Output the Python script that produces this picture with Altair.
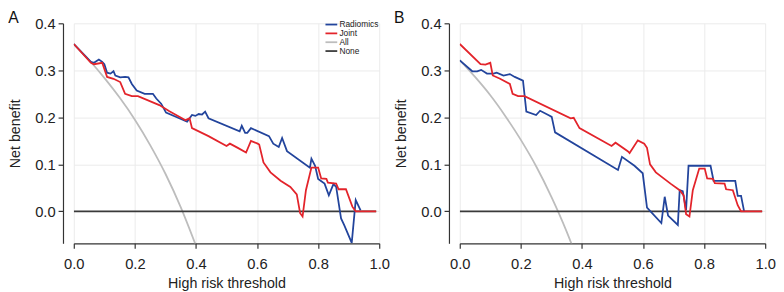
import altair as alt
import pandas as pd

series_names = ["Radiomics", "Joint", "All", "None"]
series_colors = ["#22449c", "#e3242b", "#bdbdbd", "#3a3a3a"]
x_ticks = [0.0, 0.2, 0.4, 0.6, 0.8, 1.0]
y_ticks = [0.0, 0.1, 0.2, 0.3, 0.4]

# ---------------- Panel A ----------------
a_rad_t = [0.000, 0.056, 0.066, 0.082, 0.093, 0.100, 0.109, 0.120, 0.130, 0.136, 0.152, 0.168,
           0.179, 0.190, 0.206, 0.232, 0.259, 0.270, 0.286, 0.302, 0.345, 0.371, 0.387, 0.398,
           0.409, 0.420, 0.430, 0.441, 0.543, 0.550, 0.561, 0.568, 0.580, 0.639, 0.653, 0.671,
           0.682, 0.698, 0.773, 0.778, 0.790, 0.800, 0.821, 0.835, 0.850, 0.859, 0.875, 0.885,
           0.910, 0.923, 0.939]
a_rad_nb = [0.356, 0.318, 0.316, 0.323, 0.318, 0.313, 0.295, 0.293, 0.298, 0.289, 0.285, 0.286,
            0.285, 0.271, 0.257, 0.250, 0.250, 0.240, 0.229, 0.210, 0.198, 0.191, 0.205, 0.203,
            0.207, 0.206, 0.212, 0.198, 0.170, 0.182, 0.167, 0.167, 0.177, 0.160, 0.144, 0.137,
            0.156, 0.128, 0.093, 0.112, 0.097, 0.069, 0.059, 0.034, 0.058, 0.052, -0.015, -0.029,
            -0.067, 0.024, 0.002]

a_joint_t = [0.000, 0.056, 0.066, 0.093, 0.109, 0.130, 0.152, 0.168, 0.190, 0.210, 0.280, 0.313,
             0.366, 0.379, 0.387, 0.441, 0.500, 0.511, 0.537, 0.564, 0.580, 0.602, 0.607, 0.621,
             0.644, 0.677, 0.709, 0.730, 0.741, 0.749, 0.760, 0.778, 0.800, 0.810, 0.827, 0.832,
             0.859, 0.867, 0.891, 0.912, 0.923, 0.990]
a_joint_nb = [0.356, 0.316, 0.313, 0.316, 0.286, 0.282, 0.275, 0.250, 0.245, 0.245, 0.226, 0.213,
              0.194, 0.198, 0.177, 0.160, 0.139, 0.144, 0.135, 0.125, 0.150, 0.144, 0.142, 0.104,
              0.083, 0.065, 0.052, 0.036, -0.004, -0.011, 0.045, 0.093, 0.093, 0.070, 0.069, 0.061,
              0.059, 0.047, 0.047, 0.010, 0.000, 0.000]

a_all_t = [0.00, 0.05, 0.10, 0.15, 0.20, 0.25, 0.30, 0.35, 0.40]
a_all_nb = [0.356, 0.322, 0.284, 0.242, 0.195, 0.141, 0.080, 0.009, -0.073]

# ---------------- Panel B ----------------
b_rad_t = [0.000, 0.041, 0.057, 0.070, 0.089, 0.110, 0.121, 0.143, 0.164, 0.180, 0.207, 0.218,
           0.250, 0.263, 0.293, 0.301, 0.312, 0.518, 0.531, 0.572, 0.599, 0.613, 0.660, 0.671,
           0.682, 0.714, 0.720, 0.730, 0.741, 0.749, 0.821, 0.831, 0.902, 0.910, 0.921, 0.931]
b_rad_nb = [0.321, 0.298, 0.298, 0.301, 0.293, 0.293, 0.295, 0.289, 0.292, 0.286, 0.278, 0.212,
            0.205, 0.214, 0.204, 0.201, 0.168, 0.088, 0.116, 0.097, 0.081, 0.008, -0.025, 0.031,
            -0.009, -0.029, 0.045, 0.043, 0.003, 0.097, 0.097, 0.065, 0.065, 0.033, 0.033, 0.000]

b_joint_t = [0.000, 0.068, 0.084, 0.100, 0.108, 0.132, 0.164, 0.173, 0.191, 0.212, 0.363, 0.373,
             0.392, 0.497, 0.510, 0.550, 0.556, 0.583, 0.604, 0.613, 0.623, 0.642, 0.690, 0.720,
             0.733, 0.741, 0.752, 0.763, 0.784, 0.802, 0.810, 0.829, 0.835, 0.867, 0.872, 0.894,
             0.910, 0.921, 0.990]
b_joint_nb = [0.356, 0.313, 0.312, 0.316, 0.289, 0.282, 0.271, 0.250, 0.245, 0.245, 0.198, 0.199,
              0.177, 0.139, 0.146, 0.128, 0.124, 0.151, 0.144, 0.135, 0.100, 0.083, 0.059, 0.045,
              0.034, -0.006, -0.011, 0.045, 0.091, 0.091, 0.070, 0.069, 0.060, 0.059, 0.047, 0.045,
              0.013, 0.000, 0.000]

b_all_t = [0.00, 0.05, 0.10, 0.15, 0.20, 0.25, 0.30, 0.35, 0.37]
b_all_nb = [0.322, 0.286, 0.247, 0.202, 0.152, 0.096, 0.031, -0.043, -0.076]

none_t = [0.0, 0.99]
none_nb = [0.0, 0.0]


def frame(name, t, nb):
    return pd.DataFrame({"series": name, "t": t, "nb": nb, "i": list(range(len(t)))})


def panel_data(rad, joint, allc):
    return pd.concat([
        frame("Radiomics", *rad),
        frame("Joint", *joint),
        frame("All", *allc),
        frame("None", none_t, none_nb),
    ], ignore_index=True)


data_a = panel_data((a_rad_t, a_rad_nb), (a_joint_t, a_joint_nb), (a_all_t, a_all_nb))
data_b = panel_data((b_rad_t, b_rad_nb), (b_joint_t, b_joint_nb), (b_all_t, b_all_nb))

FONT = "Liberation Sans"


def panel(letter, data):
    base = alt.Chart(data)
    color = alt.Color(
        "series:N",
        scale=alt.Scale(domain=series_names, range=series_colors),
        legend=alt.Legend(
            orient="none", legendX=254, legendY=-3, title=None,
            symbolType="M-3,0H3", symbolSize=16, symbolStrokeWidth=1.8,
            labelFontSize=8.5, labelFont=FONT, labelColor="#222",
            rowPadding=-2.5, padding=0, labelOffset=4, symbolOffset=4,
        ),
    )
    x = alt.X("t:Q", scale=alt.Scale(domain=[0, 1], nice=False, zero=False),
              axis=alt.Axis(values=x_ticks, format=".1f", labelFlush=False, labelOverlap=False,
                            tickSize=5, labelPadding=9, titlePadding=5),
              title="High risk threshold")
    y = alt.Y("nb:Q", scale=alt.Scale(domain=[-0.068, 0.4], nice=False, zero=False),
              axis=alt.Axis(values=y_ticks, format=".1f", offset=11, tickSize=5,
                            labelPadding=3, titlePadding=12),
              title="Net benefit")
    layers = []
    for name, interp in [("All", "monotone"), ("None", "linear"),
                         ("Radiomics", "linear"), ("Joint", "linear")]:
        layers.append(
            base.transform_filter(alt.datum.series == name)
            .mark_line(strokeWidth=1.8, interpolate=interp, clip=True)
            .encode(x=x, y=y, color=color, order="i:Q")
        )
    return alt.layer(*layers).properties(
        width=311, height=224,
        title=alt.TitleParams(letter, anchor="start", frame="bounds", fontSize=16,
                              fontWeight="normal", font=FONT, color="#111", offset=-10),
    )


chart = alt.hconcat(panel("A", data_a), panel("B", data_b), spacing=4).properties(
    padding={"left": 0, "top": 0, "right": 0, "bottom": 0}, background="white"
).configure_view(strokeOpacity=0).configure_axis(
    domainColor="#333", domainWidth=1.2, tickColor="#333", tickWidth=1.2,
    labelColor="#222", titleColor="#222", labelFont=FONT, titleFont=FONT,
    labelFontSize=15, titleFontSize=14.5, titleFontWeight="normal",
    gridColor="#ebebeb", gridWidth=1,
)

chart.save("out.html", embed_options={"renderer": "svg", "actions": False})
